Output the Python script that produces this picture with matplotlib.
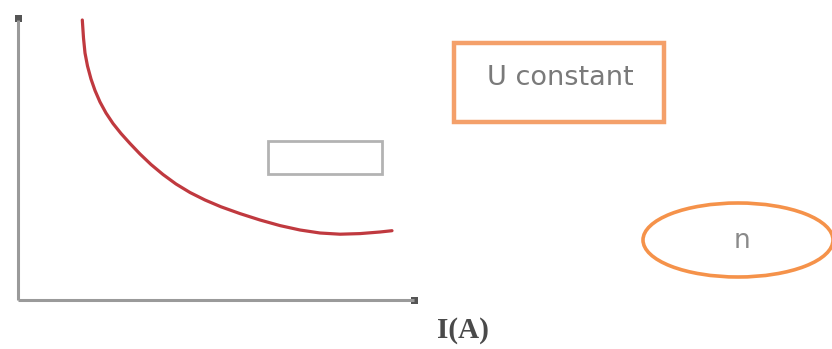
import matplotlib
matplotlib.use("Agg")
import matplotlib.pyplot as plt
from matplotlib.patches import Rectangle, Ellipse

# Curve values (pixel-like units, y grows downward)
current_I = [82.3, 83.5, 85, 87.5, 91, 95, 100, 106, 113, 121, 130, 140, 151, 163, 176,
             190, 205, 221, 240, 260, 280, 300, 320, 340, 360, 380, 392]
speed_n = [20, 38, 53, 66, 79, 90.5, 102, 113, 123.5, 133.5, 143.5, 154, 164.5, 174.5, 184,
           192.5, 200, 206.8, 213.6, 220, 225.6, 230, 233, 234.2, 233.6, 232, 230.7]

x_label = "I(A)"
box_label = "U constant"
ellipse_label = "n"

fig = plt.figure(figsize=(8.32, 3.49), dpi=100)
ax = fig.add_axes([0, 0, 1, 1])
ax.set_xlim(0, 832)
ax.set_ylim(349, 0)
ax.axis("off")

axis_col = "#9a9a9a"
# axes lines
ax.plot([18, 18], [20, 300], color=axis_col, lw=2.2, solid_capstyle="butt")
ax.plot([18, 414], [300, 300], color=axis_col, lw=2.2, solid_capstyle="butt")
# arrow heads (small dark squares)
ax.add_patch(Rectangle((14.5, 15), 7, 7, color="#555555", lw=0))
ax.add_patch(Rectangle((411, 296.5), 7, 7, color="#555555", lw=0))

# red curve
ax.plot(current_I, speed_n, color="#c0393f", lw=2.3, solid_capstyle="round",
        solid_joinstyle="round")

# gray rectangle
ax.add_patch(Rectangle((268, 141), 114, 33, fill=False, edgecolor="#b3b3b3", lw=2))

# orange box
ax.add_patch(Rectangle((454, 43), 210, 79, fill=False, edgecolor="#f4a06a", lw=3.2))
ax.text(560, 78, box_label, ha="center", va="center", fontsize=19.5,
        color="#7a7a7a", family="DejaVu Sans")

# ellipse
ax.add_patch(Ellipse((738, 240), 190, 74, fill=False, edgecolor="#f5924a", lw=2.6))
ax.text(742, 241, ellipse_label, ha="center", va="center", fontsize=19, color="#8a8a8a")

# x label
ax.text(463, 331, x_label, ha="center", va="center", fontsize=21, color="#4a4a4a",
        family="Liberation Serif", fontweight="bold")

fig.savefig("out.png", dpi=100)
